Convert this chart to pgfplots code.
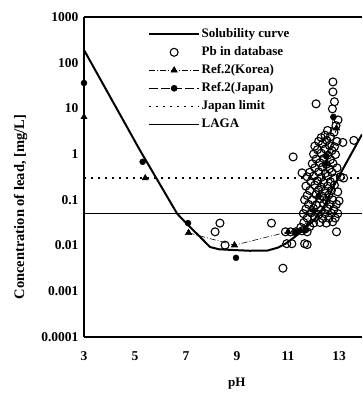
\documentclass[border=0pt]{standalone}
\usepackage{fontspec}
\setmainfont{Liberation Serif}
\usepackage{pgfplots}
\usepackage{pgfplotstable}
\pgfplotsset{compat=1.18}

\pgfplotstableread{
pH c
12.76 38
12.76 23
12.82 14
12.10 12.6
12.74 9.8
12.96 5.6
12.88 4.2
12.55 3.3
12.80 3.0
12.45 2.6
12.66 2.4
12.30 2.3
12.20 1.9
12.52 2.0
12.92 1.9
13.15 1.8
13.58 2.0
12.05 1.5
12.36 1.7
12.62 1.55
12.82 1.45
12.15 1.25
12.46 1.3
12.72 1.2
12.00 1.0
12.30 1.05
12.56 0.95
12.86 0.98
11.20 0.87
12.10 0.78
12.40 0.8
12.66 0.76
11.95 0.62
12.25 0.65
12.50 0.6
12.76 0.63
12.05 0.5
12.35 0.52
12.62 0.48
12.92 0.5
11.85 0.4
12.20 0.41
12.46 0.38
12.72 0.4
11.55 0.39
11.75 0.32
12.00 0.33
12.30 0.31
12.56 0.33
12.82 0.3
13.05 0.32
13.18 0.3
11.90 0.25
12.15 0.26
12.40 0.24
12.66 0.25
11.70 0.2
12.05 0.21
12.30 0.19
12.55 0.2
12.82 0.21
11.85 0.16
12.20 0.165
12.45 0.155
12.70 0.16
12.95 0.15
11.75 0.125
12.10 0.13
12.35 0.12
12.60 0.128
11.65 0.1
11.95 0.1
12.25 0.105
12.50 0.098
12.75 0.1
13.00 0.095
11.80 0.08
12.10 0.078
12.40 0.082
12.65 0.079
12.90 0.08
11.70 0.063
12.00 0.065
12.30 0.06
12.55 0.064
12.80 0.062
11.60 0.05
11.90 0.052
12.20 0.048
12.45 0.05
12.70 0.051
12.95 0.05
11.75 0.04
12.05 0.041
12.35 0.039
12.60 0.04
12.85 0.04
12.25 0.032
12.50 0.031
12.75 0.033
11.62 0.032
12.00 0.031
11.50 0.025
11.85 0.026
10.35 0.031
10.90 0.02
11.10 0.02
11.30 0.02
11.55 0.021
11.75 0.02
12.90 0.02
10.95 0.011
11.15 0.011
11.65 0.011
11.75 0.0105
10.80 0.0032
8.14 0.02
8.33 0.031
8.53 0.0102
}\pbdata

\begin{document}
\begin{tikzpicture}
\begin{axis}[name=ax,
  scale only axis, width=278pt, height=320pt,
  xmin=3, xmax=13.9, ymode=log, ymin=1e-4, ymax=1000,
  axis x line=box, axis y line=left,
  axis line style={-, line width=1.3pt},
  every outer x axis line/.append style={-},
  every outer y axis line/.append style={-},
  xtick={3,5,7,9,11,13}, xticklabels={3,5,7,9,11,13},
  ytick={1e-4,1e-3,1e-2,1e-1,1,10,100,1000},
  yticklabels={0.0001,0.001,0.01,0.1,1,10,100,1000},
  major tick length=0pt, minor tick length=0pt,
  every tick label/.append style={font=\bfseries\fontsize{13.5}{13.5}\selectfont},
  xticklabel style={yshift=-11pt},
  yticklabel style={xshift=-2pt},
  xlabel={pH}, ylabel={Concentration of lead, [mg/L]},
  every axis x label/.style={at={(rel axis cs:0.55,-0.147)}, anchor=center, font=\bfseries\fontsize{13}{13}\selectfont},
  every axis y label/.style={at={(rel axis cs:-0.2284,0.406)}, rotate=90, anchor=center, font=\bfseries\fontsize{14.5}{14.5}\selectfont},
  legend cell align=left,
  legend style={at={(0.23,0.97)}, anchor=north west, draw=none, fill=none, inner sep=0pt,
    font=\bfseries\fontsize{13}{13}\selectfont, row sep=3pt,
    nodes={inner ysep=1.5pt, inner xsep=1.5pt, text height=9pt, text depth=3pt}},
  legend image code/.code={\draw[mark repeat=2,mark phase=2,#1] plot coordinates {(0pt,0pt) (25pt,0pt) (50pt,0pt)};},
]
% Solubility curve
\addplot[black, line width=2pt, line join=round] coordinates {
 (3,190) (5.2,1.2) (6.65,0.05) (7.08,0.028) (7.55,0.0155) (7.94,0.0093)
 (8.3,0.0083) (8.84,0.008) (9.5,0.0077) (10.2,0.0078) (10.6,0.009) (10.9,0.011)
 (11.2,0.0145) (11.6,0.022) (12.0,0.035) (12.4,0.07) (12.75,0.18) (13.1,0.42) (13.9,2.7)};
\addlegendentry{Solubility curve}
% Pb in database
\addplot[only marks, mark=o, mark size=4pt, mark options={line width=1.1pt, black}] table[x=pH, y=c] {\pbdata};
\addlegendentry{Pb in database}
% Ref.2 Korea
\addplot[black, line width=0.6pt, dash pattern=on 6pt off 2pt on 1pt off 2pt,
  mark=triangle*, mark size=3.6pt, mark options={solid}] coordinates {
 (7.1,0.019) (8.9,0.0102) (11.0,0.02) (11.5,0.021) (12.0,0.06) (12.5,0.6) (12.9,3.7)};
\addlegendentry{Ref.2(Korea)}
% Ref.2 Japan
\addplot[black, line width=0.6pt, dash pattern=on 9pt off 3pt,
  mark=*, mark size=3pt, mark options={solid}] coordinates {
 (11.3,0.02) (11.7,0.022) (12.2,0.12) (12.5,0.9) (12.78,6.5)};
\addlegendentry{Ref.2(Japan)}
% Japan limit
\addplot[black, line width=1.2pt, dash pattern=on 2pt off 5pt] coordinates {(3,0.3) (13.9,0.3)};
\addlegendentry{Japan limit}
% LAGA
\addplot[black, line width=1.2pt] coordinates {(3,0.05) (13.9,0.05)};
\addlegendentry{LAGA}
% remaining reference points
\addplot[forget plot, only marks, mark=triangle*, mark size=3.6pt, black] coordinates {(3,6.5) (5.4,0.3)};
\addplot[forget plot, only marks, mark=*, mark size=3pt, black] coordinates {(3,36) (5.3,0.68) (7.08,0.031) (8.96,0.0054)};
\end{axis}
\pgfresetboundingbox
\path ([shift={(-84pt,-57pt)}]ax.south west) rectangle ([shift={(0pt,17pt)}]ax.north east);
\end{tikzpicture}
\end{document}
